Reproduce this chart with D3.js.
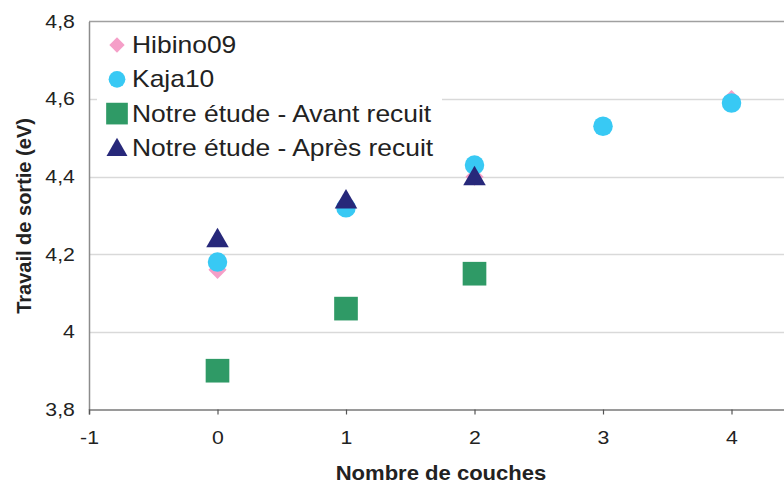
<!DOCTYPE html>
<html>
<head>
<meta charset="utf-8">
<script src="https://cdn.jsdelivr.net/npm/d3@7"></script>
<style>
  html, body { margin: 0; padding: 0; background: #fff; }
  svg { display: block; font-family: "Liberation Sans", Arial, sans-serif; }
</style>
</head>
<body>
<svg id="chart" width="784" height="486"></svg>
<script>
// Work function vs. number of layers
const layersHibino = [0, 1, 2, 3, 4];
const hibino09 = [4.16, 4.33, 4.40, 4.53, 4.60];
const layersKaja = [0, 1, 2, 3, 4];
const kaja10 = [4.18, 4.32, 4.43, 4.53, 4.59];
const layersStudy = [0, 1, 2];
const avantRecuit = [3.90, 4.06, 4.15];
const apresRecuit = [4.24, 4.34, 4.40];

const xTicks = [-1, 0, 1, 2, 3, 4];
const yTicks = [3.8, 4.0, 4.2, 4.4, 4.6, 4.8];
const seriesNames = ["Hibino09", "Kaja10", "Notre étude - Avant recuit", "Notre étude - Après recuit"];

const svg = d3.select("#chart");
const W = 784;
const STRETCH = 1.18;   // glyphs are set slightly wide

const x = d3.scaleLinear().domain([-1, 5]).range([89, 860]);
const y = d3.scaleLinear().domain([3.8, 4.8]).range([409.5, 21.5]);

const fmtY = v => d3.format(".1~f")(v).replace(".", ",");
const fmtX = v => String(v);   // plain hyphen for negatives

// grid lines
svg.append("g").selectAll("line")
  .data(yTicks.filter(t => t > 3.8 && t < 4.8))
  .join("line")
  .attr("x1", x(-1)).attr("x2", W)
  .attr("y1", d => Math.round(y(d)) + 0.5).attr("y2", d => Math.round(y(d)) + 0.5)
  .attr("stroke", "#d9d9d9").attr("stroke-width", 1.3);

// top border of the plot area
svg.append("line")
  .attr("x1", x(-1)).attr("x2", W)
  .attr("y1", y(4.8)).attr("y2", y(4.8))
  .attr("stroke", "#a0a0a0").attr("stroke-width", 1.5);

// y axis
const yAxis = d3.axisLeft(y).tickValues(yTicks).tickFormat(fmtY).tickSize(0).tickPadding(12);
const gy = svg.append("g").attr("transform", `translate(${x(-1)},0)`).call(yAxis);
gy.select(".domain").attr("stroke", "#8c8c8c").attr("stroke-width", 1.5);
gy.selectAll("text").attr("font-size", 18).attr("fill", "#222")
  .attr("font-family", "'Liberation Sans', Arial, sans-serif")
  .attr("transform", `scale(${STRETCH},1)`);

// x axis
const xAxis = d3.axisBottom(x).tickValues(xTicks).tickFormat(fmtX).tickSize(5).tickPadding(17);
const gx = svg.append("g").attr("transform", `translate(0,${y(3.8)})`).call(xAxis);
gx.select(".domain").attr("stroke", "#7a7a7a").attr("stroke-width", 1.5);
gx.selectAll(".tick line").attr("stroke", "#555").attr("stroke-width", 1.2);
gx.selectAll("text").attr("font-size", 18).attr("fill", "#222")
  .attr("font-family", "'Liberation Sans', Arial, sans-serif")
  .attr("transform", `scale(${STRETCH},1)`);

// axis titles
svg.append("text")
  .attr("transform", `translate(441,480) scale(1.05,1)`)
  .attr("text-anchor", "middle")
  .attr("font-size", 21).attr("font-weight", "bold").attr("fill", "#222")
  .text("Nombre de couches");

svg.append("text")
  .attr("transform", `translate(31,216) rotate(-90)`)
  .attr("text-anchor", "middle")
  .attr("font-size", 20).attr("font-weight", "bold").attr("fill", "#222")
  .text("Travail de sortie (eV)");

// marker styles per series
const colors = ["#f59fc8", "#38c9f4", "#2f9a66", "#27287a"];
const symTypes = [d3.symbolDiamond2, d3.symbolCircle, d3.symbolSquare, d3.symbolTriangle];
const plotSizes = [210, 300, 560, 220];
const legendSizes = [150, 220, 470, 190];
// triangle is drawn about its centroid; shift so its box is centred on the value
const yShift = [0, 0, 0, 2];

const series = [
  { xs: layersHibino, ys: hibino09 },
  { xs: layersKaja, ys: kaja10 },
  { xs: layersStudy, ys: avantRecuit },
  { xs: layersStudy, ys: apresRecuit }
];

const plot = svg.append("g");
series.forEach((s, i) => {
  const gen = d3.symbol().type(symTypes[i]).size(plotSizes[i]);
  plot.append("g").selectAll("path")
    .data(s.xs.map((xv, j) => [xv, s.ys[j]]))
    .join("path")
    .attr("d", gen())
    .attr("transform", d => `translate(${x(d[0])},${y(d[1]) + yShift[i]})`)
    .attr("fill", colors[i]);
});

// legend
const legend = svg.append("g");
legend.append("rect")
  .attr("x", 97).attr("y", 23).attr("width", 345).attr("height", 142)
  .attr("fill", "#fff");
const rows = legend.selectAll("g.row")
  .data(seriesNames)
  .join("g").attr("class", "row")
  .attr("transform", (d, i) => `translate(0,${45 + i * 34.3})`);
rows.append("path")
  .attr("d", (d, i) => d3.symbol().type(symTypes[i]).size(legendSizes[i])())
  .attr("transform", (d, i) => `translate(117,${i === 3 ? 2 : 0})`)
  .attr("fill", (d, i) => colors[i]);
rows.append("text")
  .attr("transform", `translate(132,0) scale(1.15,1)`)
  .attr("dy", "0.35em")
  .attr("font-size", 23).attr("fill", "#222")
  .text(d => d);
</script>
</body>
</html>
